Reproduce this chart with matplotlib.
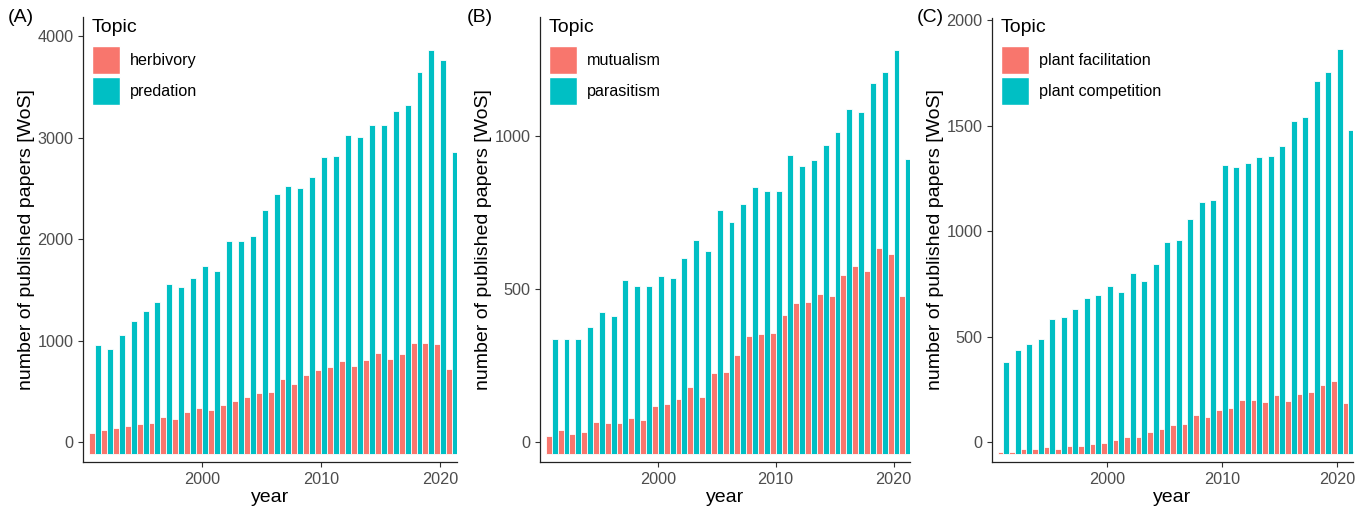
import matplotlib
matplotlib.use("Agg")
import matplotlib.pyplot as plt
from matplotlib.patches import Patch
import numpy as np

plt.rcParams['font.family'] = ['Liberation Sans', 'DejaVu Sans']

years = list(range(1991, 2022))

herbivory = [89, 115, 135, 161, 181, 191, 243, 230, 292, 338, 312, 365, 407, 447, 486,
             493, 621, 569, 657, 707, 739, 802, 746, 808, 881, 822, 871, 979, 979, 966, 720]
predation = [960, 914, 1052, 1193, 1295, 1383, 1558, 1528, 1617, 1732, 1689, 1978, 1978, 2031, 2290,
             2442, 2527, 2504, 2609, 2806, 2816, 3023, 3004, 3122, 3125, 3267, 3322, 3648, 3865, 3769, 2862]

mutualism = [19, 38, 28, 34, 67, 62, 62, 79, 73, 118, 124, 141, 179, 146, 225,
             228, 286, 348, 352, 356, 417, 456, 457, 484, 479, 547, 577, 559, 636, 615, 479]
parasitism = [338, 338, 337, 376, 424, 414, 530, 509, 510, 543, 535, 603, 662, 625, 760,
              720, 779, 833, 820, 820, 939, 904, 924, 972, 1015, 1088, 1079, 1174, 1209, 1282, 926]

plant_facilitation = [-48, -48, -35, -35, -25, -32, -21, -19, -10, -6, 8, 24, 24, 48, 63,
                      82, 87, 130, 120, 154, 163, 198, 198, 190, 222, 195, 226, 236, 268, 288, 187]
plant_competition = [377, 435, 464, 488, 584, 594, 629, 684, 697, 739, 713, 800, 763, 842, 948,
                     958, 1058, 1139, 1146, 1314, 1302, 1321, 1352, 1357, 1403, 1522, 1541, 1714, 1757, 1862, 1482]

panels = [
    ("(A)", "herbivory", herbivory, "predation", predation, [0, 1000, 2000, 3000, 4000], (-197, 4190)),
    ("(B)", "mutualism", mutualism, "parasitism", parasitism, [0, 500, 1000], (-65, 1390)),
    ("(C)", "plant facilitation", plant_facilitation, "plant competition", plant_competition,
     [0, 500, 1000, 1500, 2000], (-95, 2011)),
]

RED = "#F8766D"
TEAL = "#00BFC4"

W, H = 1364, 516
fig = plt.figure(figsize=(W / 100, H / 100), dpi=100)

# axes pixel boxes: left, right, top, bottom
boxes = [(83, 457, 17, 462), (540, 910, 17, 462), (992, 1353, 18, 462)]
label_x = [8, 467, 917]

LEG_FS = 11.6
for (tag, n1, v1, n2, v2, ticks, ylim), (l, r, t, b), lx in zip(panels, boxes, label_x):
    ax = fig.add_axes([l / W, 1 - b / H, (r - l) / W, (b - t) / H])
    ax.set_xlim(1990.0, 2021.4)
    ax.set_ylim(*ylim)
    # bars start ~12 px below zero in the reference
    px_per_unit = (b - t) / (ylim[1] - ylim[0])
    base = -12 / px_per_unit
    x = np.array(years, dtype=float)
    ax.bar(x - 0.25, np.array(v1) - base, bottom=base, width=0.5, color=RED,
           edgecolor="white", linewidth=0.6)
    ax.bar(x + 0.25, np.array(v2) - base, bottom=base, width=0.5, color=TEAL,
           edgecolor="white", linewidth=0.6)
    ax.set_yticks(ticks)
    ax.set_xticks([2000, 2010, 2020])
    for s in ["top", "right"]:
        ax.spines[s].set_visible(False)
    for s in ["left", "bottom"]:
        ax.spines[s].set_color("#222222")
        ax.spines[s].set_linewidth(0.9)
    ax.tick_params(axis="both", colors="#333333", labelcolor="#4D4D4D", labelsize=11.7,
                   length=3.5, width=0.8)
    ax.set_xlabel("year", fontsize=14, labelpad=2)
    ax.set_ylabel("number of published papers [WoS]", fontsize=14, labelpad=1.5)
    handles = [Patch(facecolor=RED, edgecolor="white", label=n1),
               Patch(facecolor=TEAL, edgecolor="white", label=n2)]
    fs_px = LEG_FS * 100 / 72
    ax.legend(handles=handles, loc="upper left", frameon=False,
              fontsize=LEG_FS, handlelength=28 / fs_px, handleheight=2.32,
              labelspacing=3 / fs_px, handletextpad=10 / fs_px, borderaxespad=0,
              borderpad=0, bbox_to_anchor=((l + 9) / W, 1 - 46 / H),
              bbox_transform=fig.transFigure)
    fig.text((l + 9) / W, 1 - 27 / H, "Topic", fontsize=14, va="center", ha="left")
    fig.text(lx / W, 1 - 18 / H, tag, fontsize=14, va="center", ha="left")

fig.savefig("out.png", dpi=100)
